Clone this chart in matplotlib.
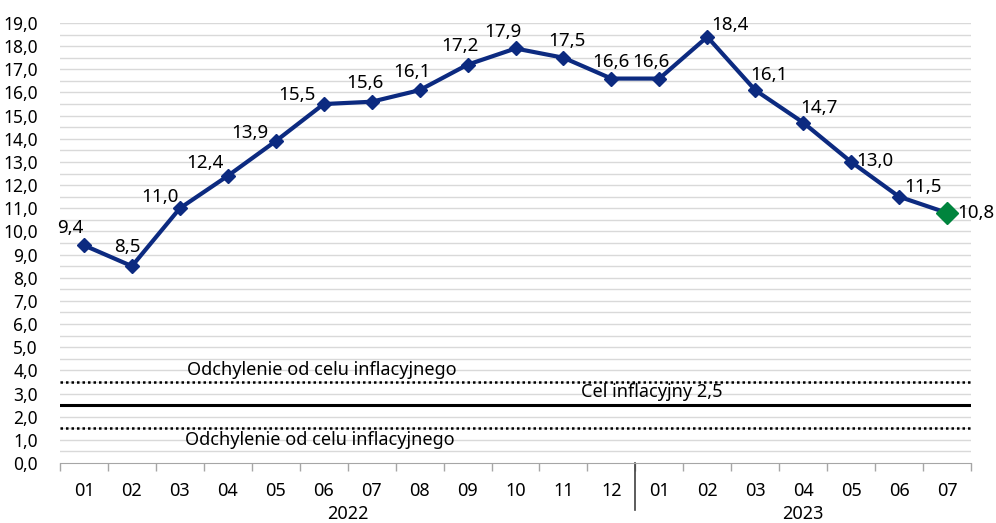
import matplotlib.pyplot as plt
import numpy as np

plt.rcParams['font.family'] = ['Noto Sans', 'DejaVu Sans']

months = ['01', '02', '03', '04', '05', '06', '07', '08', '09', '10', '11', '12',
          '01', '02', '03', '04', '05', '06', '07']
years = ['2022', '2023']
cpi = [9.4, 8.5, 11.0, 12.4, 13.9, 15.5, 15.6, 16.1, 17.2, 17.9, 17.5, 16.6,
       16.6, 18.4, 16.1, 14.7, 13.0, 11.5, 10.8]
target = 2.5
band = [1.5, 3.5]

# label offsets in pixels (dx, dy up)
offs = [(-14, 17), (-5, 19), (-20, 11), (-23, 13), (-26, 8), (-27, 9), (-7, 19),
        (-8, 18), (-8, 19), (-13, 16), (4, 17), (0, 17), (-8, 17), (23, 12),
        (14, 15), (16, 15), (24, 1), (24, 10), (29, 0)]

navy = '#0c2a80'
fig = plt.figure(figsize=(9.96, 5.23), dpi=100)
ax = fig.add_axes([60 / 996, 1 - 463 / 523, 911 / 996, 440 / 523])

x = np.arange(len(cpi))
ax.set_xlim(-0.5, len(cpi) - 0.5)
ax.set_ylim(0, 19)

for g in np.arange(0.5, 19.01, 0.5):
    ax.axhline(g, color='#d9d9d9', lw=1, zorder=0)

ax.axhline(band[1], color='black', lw=1.8, ls=(0, (1, 1.2)), zorder=1)
ax.axhline(band[0], color='black', lw=1.8, ls=(0, (1, 1.2)), zorder=1)
ax.axhline(target, color='black', lw=2.2, zorder=1)

ax.text(4.95, 4.0, 'Odchylenie od celu inflacyjnego', ha='center', va='center', fontsize=13)
ax.text(4.92, 1.0, 'Odchylenie od celu inflacyjnego', ha='center', va='center', fontsize=13)
ax.text(11.85, 3.05, 'Cel inflacyjny 2,5', ha='center', va='center', fontsize=13)

ax.plot(x, cpi, color=navy, lw=3, marker='D', ms=7, zorder=3)
ax.plot(x[-1], cpi[-1], marker='D', ms=11, color='#00843d', ls='none', zorder=4)

for i, v in enumerate(cpi):
    dx, dy = offs[i]
    ax.annotate(f'{v:.1f}'.replace('.', ','), (x[i], v), xytext=(dx, dy),
                textcoords='offset pixels', ha='center', va='center', fontsize=13.5)

ax.set_yticks(np.arange(0, 19.01, 1))
ax.set_yticklabels([f'{t:.1f}'.replace('.', ',') for t in np.arange(0, 19.01, 1)], fontsize=12.5)
ax.tick_params(axis='y', length=0, pad=16)

ax.set_xticks(np.arange(-0.5, len(cpi), 1))
ax.set_xticklabels([])
ax.set_xticks(x, minor=True)
ax.set_xticklabels(months, minor=True, fontsize=13)
ax.tick_params(axis='x', which='major', direction='out', length=6, color='#a6a6a6', width=1)
ax.tick_params(axis='x', which='minor', length=0, pad=14)

for s in ['top', 'right', 'left']:
    ax.spines[s].set_visible(False)
ax.spines['bottom'].set_color('#a6a6a6')

ax.plot([11.5, 11.5], [0, -2.05], color='#404040', lw=1.2, clip_on=False)
ax.text(5.5, -2.2, years[0], ha='center', va='center', fontsize=13)
ax.text(15, -2.2, years[1], ha='center', va='center', fontsize=13)

fig.savefig('out.png', dpi=100)
